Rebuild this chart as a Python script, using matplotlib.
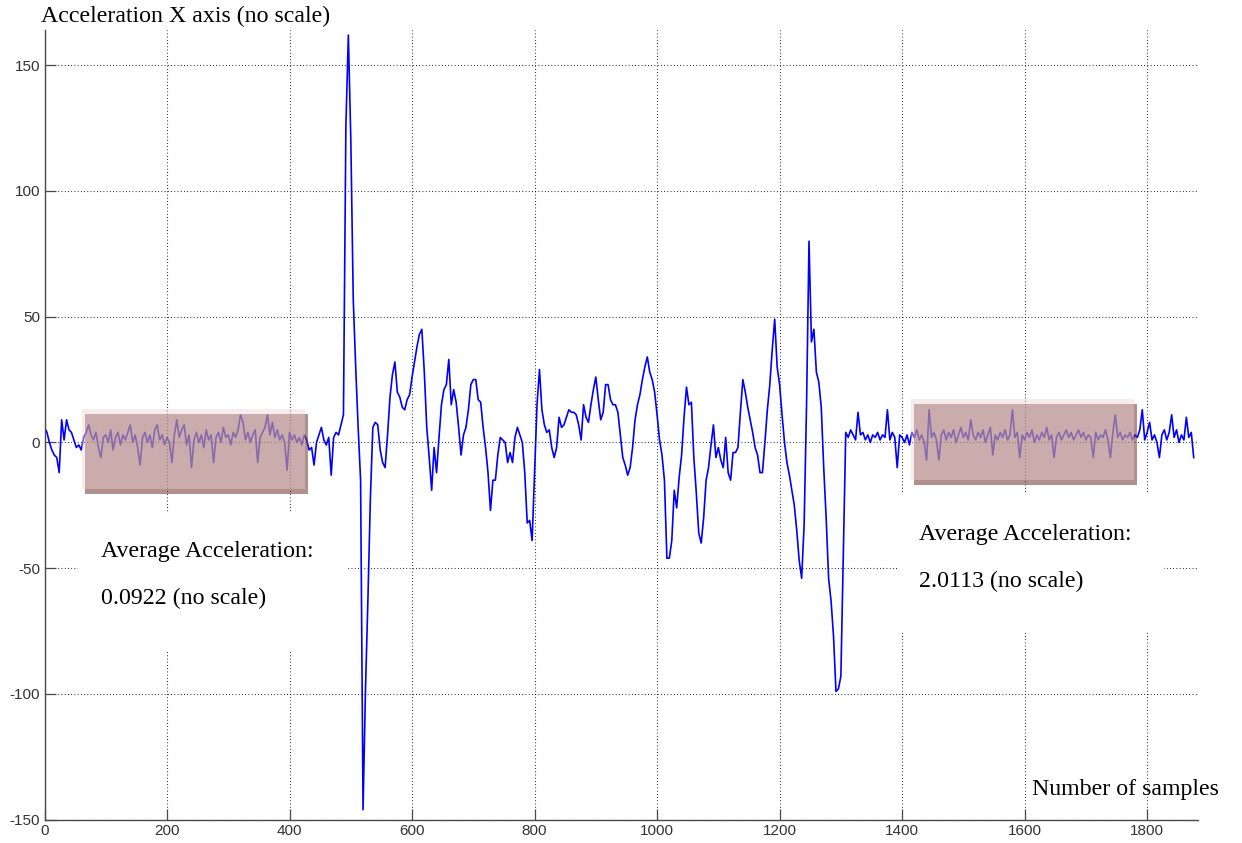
import numpy as np
import matplotlib.pyplot as plt
import matplotlib.transforms as mtransforms
from matplotlib.patches import Rectangle

plt.rcParams['axes.unicode_minus'] = False

STEP = 4  # samples between stored readings

# acceleration readings, one every STEP samples (100 samples per row)
accel_x = [
    6, 4, 0, -3, -5, -6, -12, 9, 1, 9, 5, 4, 1, -2, -1, -3, 2, 4, 7, 3, 1, 4, -2, -6, 2,
    3, 0, 5, -3, 2, 4, -1, 3, 1, 4, 7, 0, 3, -2, -9, 2, 4, 0, 3, -2, 5, 7, 1, 3, -1,
    2, 0, -8, 3, 9, 2, 5, 7, -1, 3, -10, 1, 4, 0, 3, -2, 5, 1, 3, -8, 2, 4, 0, 6, 2,
    3, -1, 4, 2, 5, 11, 8, 1, 4, 0, 3, 5, -8, 2, 4, 6, 11, 3, 8, 2, 5, 1, 3, 0, -11,
    4, 1, 3, 0, 2, -1, 3, 1, -3, -2, -9, 0, 3, 6, 1, -1, 2, -13, 2, 4, 3, 7, 11, 126, 162,
    121, 57, 30, 6, -15, -146, -98, -62, -22, 6, 8, 7, -3, -8, -10, 3, 18, 27, 32, 20, 18, 14, 13, 17, 19,
    26, 32, 38, 43, 45, 28, 6, -6, -19, -2, -12, 2, 15, 21, 23, 33, 15, 21, 16, 6, -5, 3, 6, 13, 23,
    25, 25, 17, 16, 6, -2, -12, -27, -15, -15, -5, 2, 1, 0, -8, -4, -8, 2, 6, 3, 0, -12, -32, -31, -39,
    -12, 15, 29, 13, 7, 4, 5, -2, -6, -2, 10, 6, 7, 10, 13, 12, 12, 11, 7, 1, 15, 10, 8, 15, 21,
    26, 17, 9, 12, 23, 23, 17, 15, 15, 12, 3, -6, -9, -13, -10, -2, 9, 15, 19, 25, 30, 34, 28, 25, 20,
    11, 1, -5, -15, -46, -46, -39, -19, -26, -14, -5, 10, 22, 15, 16, -6, -20, -36, -40, -30, -15, -10, -1, 7, -6,
    -2, -7, -10, 2, -12, -15, -4, -4, -2, 12, 25, 20, 14, 9, 4, -2, -5, -12, -12, 0, 13, 23, 37, 49, 30,
    23, 11, 0, -8, -13, -19, -25, -35, -47, -54, -33, 15, 80, 40, 45, 28, 24, 14, -10, -30, -54, -63, -77, -99, -98,
    -93, -45, 4, 2, 5, 3, 1, 12, 3, 4, 1, 3, 0, 3, 2, 4, 1, 3, 2, 13, 1, 4, 2, -10, 3,
    2, 0, 3, -1, 4, 2, 5, 1, 3, 0, -7, 13, 2, 4, 1, -7, 3, 5, 1, 4, 2, 5, 0, 3, 6,
    2, 4, 1, 9, 3, 1, 4, 2, 5, 0, 3, 6, -5, 3, 1, 4, 2, 5, 1, 3, 13, 2, 4, -6, 3,
    1, 4, 2, 5, 0, 3, 1, 4, 2, 6, 1, 3, -6, 2, 4, 1, 3, 5, 2, 4, 1, 3, 5, 2, 4,
    1, 3, 2, -6, 4, 1, 3, 2, 5, 1, -6, 4, 11, 2, 4, 1, 3, 2, 4, 1, 3, 2, 5, 13, 1,
    4, 8, 1, 3, 0, -6, 3, 5, 1, 4, 11, 2, 5, 0, 3, 1, 10, 2, 4, -6,
]
samples = np.arange(len(accel_x)) * STEP

# sample windows used for the two averages, and the band drawn around them
avg_windows = [(61, 425), (1415, 1779)]
avg_bands = [(-18.7, 13.5), (-15.1, 17.4)]
avg_values = [0.0922, 2.0113]

x_ticks = np.arange(0, 1801, 200)
y_ticks = np.arange(-150, 151, 50)

serif = 'Liberation Serif'
sans = 'Liberation Sans'
TXT = 17.2

fig = plt.figure(figsize=(12.42, 8.43), dpi=100)
fig.patch.set_facecolor('white')
ax = fig.add_axes([44.5 / 1242, 23.3 / 843, 1153.5 / 1242, 789.7 / 843])

ax.plot(samples, accel_x, color='#0000ff', lw=1.2, zorder=2)

ax.set_xlim(0, 1883)
ax.set_ylim(-150, 164)
ax.set_xticks(x_ticks)
ax.set_yticks(y_ticks)
for lab in ax.get_xticklabels() + ax.get_yticklabels():
    lab.set_family(sans)

for side in ('top', 'right'):
    ax.spines[side].set_visible(False)
for side in ('left', 'bottom'):
    ax.spines[side].set_color('#4a4a4a')
    ax.spines[side].set_linewidth(1.0)

ax.tick_params(direction='in', length=8, width=0.9, color='#4a4a4a',
               labelcolor='#333333', labelsize=11, pad=3)
ax.set_axisbelow(True)
ax.grid(True, color='black', lw=0.8, linestyle=(0, (0.7, 2.2)))

# shaded averaging windows with a drop shadow
shadow = mtransforms.offset_copy(ax.transData, fig=fig, x=3, y=-5, units='dots')
for (s0, s1), (b0, b1) in zip(avg_windows, avg_bands):
    ax.add_patch(Rectangle((s0, b0), s1 - s0, b1 - b0, transform=shadow,
                           facecolor='#6f3333', edgecolor='none', alpha=0.55, zorder=3))
    ax.add_patch(Rectangle((s0, b0), s1 - s0, b1 - b0,
                           facecolor='#edd3d3', edgecolor='none', alpha=0.43, zorder=4))

# text panels with their white backgrounds (axes fractions)
panel_boxes = [(0.029, 0.2149, 0.2341, 0.1747), (0.7399, 0.2377, 0.2306, 0.1760)]
panel_text_x = [0.0494, 0.7581]
panel_text_y = [(0.3330, 0.2731), (0.3542, 0.2943)]
for (bx, by, bw, bh), tx, (ty1, ty2), val in zip(panel_boxes, panel_text_x,
                                                 panel_text_y, avg_values):
    ax.add_patch(Rectangle((bx, by), bw, bh, transform=ax.transAxes,
                           facecolor='white', edgecolor='none', zorder=1.5))
    ax.text(tx, ty1, 'Average Acceleration:', transform=ax.transAxes,
            family=serif, fontsize=TXT, va='baseline', ha='left', zorder=5)
    ax.text(tx, ty2, f'{val:.4f} (no scale)', transform=ax.transAxes,
            family=serif, fontsize=TXT, va='baseline', ha='left', zorder=5)

fig.text(41 / 1242, 1 - 21.7 / 843, 'Acceleration X axis (no scale)',
         family=serif, fontsize=TXT, va='baseline', ha='left')
fig.text(1032 / 1242, 1 - 795 / 843, 'Number of samples',
         family=serif, fontsize=TXT, va='baseline', ha='left')

fig.savefig('out.png', dpi=100)
